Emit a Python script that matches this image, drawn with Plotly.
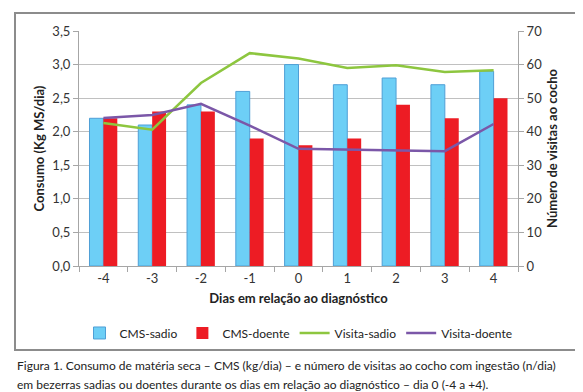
import plotly.graph_objects as go

dias = ["-4", "-3", "-2", "-1", "0", "1", "2", "3", "4"]
cms_sadio = [2.2, 2.1, 2.4, 2.6, 3.0, 2.7, 2.8, 2.7, 2.9]
cms_doente = [2.2, 2.3, 2.3, 1.9, 1.8, 1.9, 2.4, 2.2, 2.5]
visita_sadio = [42.6, 40.6, 54.5, 63.4, 61.8, 59.0, 59.8, 57.8, 58.3]
visita_doente = [44.1, 45.0, 48.3, 41.8, 34.9, 34.7, 34.3, 34.2, 42.3]

FONT = "Lato"
fig = go.Figure()
fig.add_trace(go.Bar(x=dias, y=cms_sadio, name="CMS-sadio",
                     marker=dict(color="#6DCFF6", line=dict(color="#4F9FD6", width=1))))
fig.add_trace(go.Bar(x=dias, y=cms_doente, name="CMS-doente",
                     marker=dict(color="#ED1C24", line=dict(width=0))))
fig.add_trace(go.Scatter(x=dias, y=visita_sadio, name="Visita-sadio", yaxis="y2",
                         mode="lines", line=dict(color="#8DC63F", width=2.5)))
fig.add_trace(go.Scatter(x=dias, y=visita_doente, name="Visita-doente", yaxis="y2",
                         mode="lines", line=dict(color="#7B57A8", width=2.5)))

fig.update_layout(
    width=583, height=392,
    margin=dict(l=71, r=73, t=23, b=134),
    paper_bgcolor="white", plot_bgcolor="white",
    separators=",.",
    bargap=0.43, bargroupgap=0,
    font=dict(family=FONT, size=12, color="#222222"),
    xaxis=dict(type="category", showgrid=False, showline=True, linecolor="#A6A6A6",
               ticks="outside", tickson="boundaries", ticklen=5, tickcolor="#A6A6A6",
               tickfont=dict(size=13, color="#333333"),
               title=dict(text="<b>Dias em relação ao diagnóstico</b>", font=dict(size=13), standoff=9)),
    yaxis=dict(range=[0, 3.5], dtick=0.5, tickformat=".1f", showgrid=True, gridcolor="#C0C0C0",
               showline=True, linecolor="#A6A6A6", ticks="outside", ticklen=5, tickcolor="#A6A6A6",
               zeroline=False, tickfont=dict(size=13, color="#333333"),
               title=dict(text="<b>Consumo (Kg MS/dia)</b>", font=dict(size=13), standoff=4)),
    yaxis2=dict(range=[0, 70], dtick=10, overlaying="y", side="right", showgrid=False,
                showline=True, linecolor="#A6A6A6", ticks="outside", ticklen=5, tickcolor="#A6A6A6",
                zeroline=False, tickfont=dict(size=13, color="#333333"),
                title=dict(text="<b>Número de visitas ao cocho</b>", font=dict(size=13), standoff=6)),
    legend=dict(orientation="h", x=0.5, xanchor="center", y=-0.285, yanchor="middle",
                font=dict(size=12), itemwidth=30, traceorder="normal"),
    showlegend=True,
)

fig.add_shape(type="rect", xref="paper", yref="paper",
              x0=(7 - 71) / 439, x1=(568 - 71) / 439,
              y0=(258 - 342) / 235, y1=(258 - 5) / 235,
              line=dict(color="#8C8C8C", width=2), fillcolor="rgba(0,0,0,0)", layer="below")

caption1 = "Figura 1. Consumo de matéria seca – CMS (kg/dia) – e número de visitas ao cocho com ingestão (n/dia)"
caption2 = "em bezerras sadias ou doentes durante os dias em relação ao diagnóstico – dia 0 (-4 a +4)."
for txt, py in [(caption1, 357), (caption2, 376)]:
    fig.add_annotation(text=txt, xref="paper", yref="paper", x=(7 - 71) / 439, y=(258 - py) / 235,
                       xanchor="left", yanchor="middle", showarrow=False,
                       font=dict(family=FONT, size=12, color="#222222"))

fig.write_html("out.html")
